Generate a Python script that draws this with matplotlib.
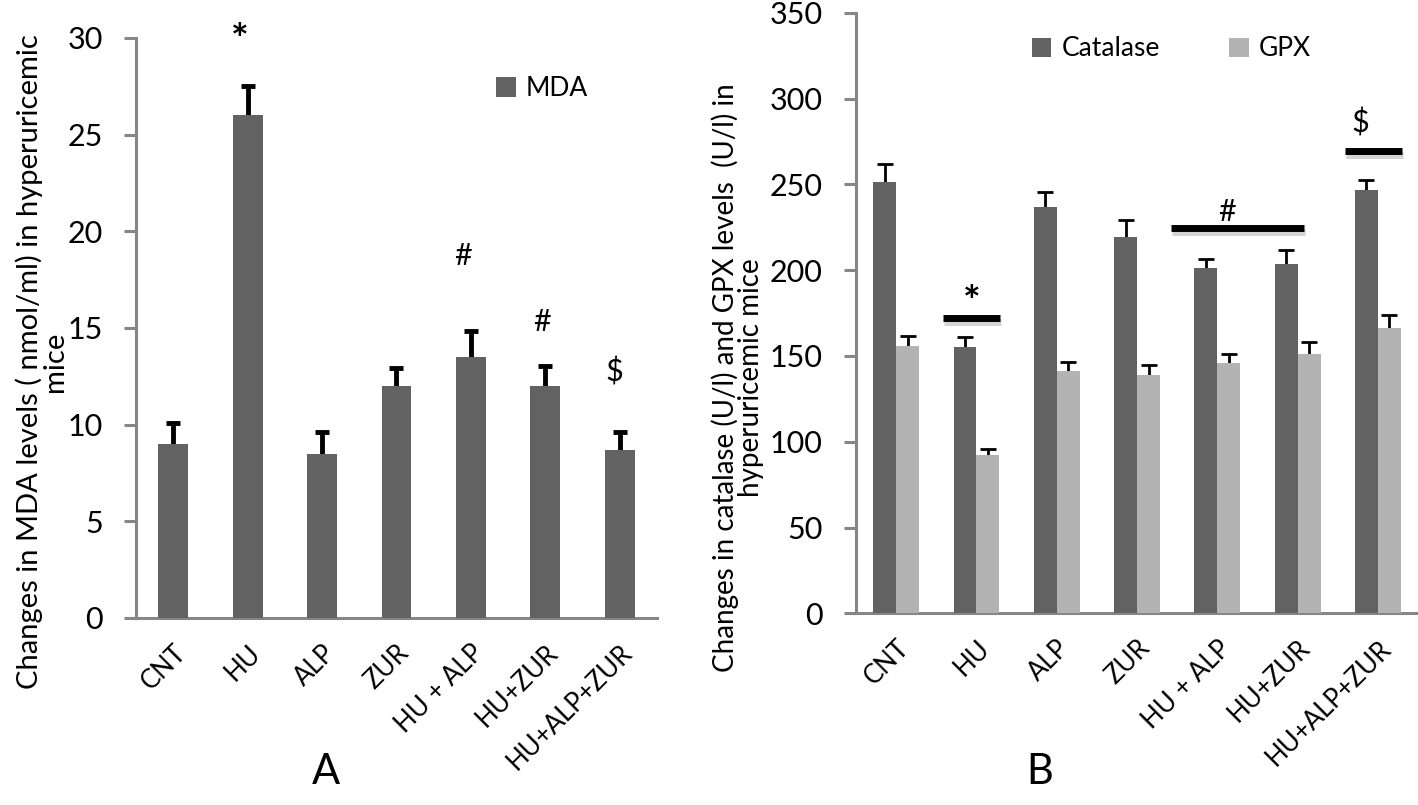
import matplotlib
matplotlib.use("Agg")
import matplotlib.pyplot as plt
import matplotlib.patheffects as pe
import numpy as np

plt.rcParams['font.family'] = ['Lato', 'DejaVu Sans']

groups = ['CNT', 'HU', 'ALP', 'ZUR', 'HU + ALP', 'HU+ZUR', 'HU+ALP+ZUR']

# panel A - MDA
mda = [9.0, 26.0, 8.5, 12.0, 13.5, 12.0, 8.7]
mda_err = [1.1, 1.5, 1.1, 0.95, 1.35, 1.05, 0.9]
mda_marks = ['*', '#', '#', '$']
mda_mark_x = [0.9, 3.9, 4.95, 5.93]
mda_mark_y = [29.8, 18.7, 15.3, 12.7]

# panel B - catalase and GPX
catalase = [251.5, 155.0, 237.0, 219.5, 201.0, 203.5, 246.5]
catalase_err = [10.5, 6.0, 8.5, 9.5, 5.5, 8.5, 6.0]
gpx = [155.5, 92.0, 141.0, 139.0, 146.0, 151.0, 166.5]
gpx_err = [6.0, 3.8, 5.5, 5.8, 5.3, 7.3, 7.3]
b_marks = ['*', '#', '$']
b_mark_x = [0.94, 4.12, 5.78]
b_mark_y = [169, 226, 277]
b_line_x0 = [0.58, 3.42, 5.59]
b_line_x1 = [1.29, 5.08, 6.30]
b_line_y = [172, 224.5, 269.5]

dark = '#626262'
light = '#b3b3b3'
axcol = '#868686'

fig = plt.figure(figsize=(14.18, 8.05), dpi=100)
x = np.arange(len(groups))

def style(ax):
    for s in ['top', 'right']:
        ax.spines[s].set_visible(False)
    for s in ['left', 'bottom']:
        ax.spines[s].set_color(axcol)
        ax.spines[s].set_linewidth(2.2)
    ax.tick_params(axis='y', length=9, width=2.2, color=axcol, labelsize=22, pad=15)
    ax.tick_params(axis='x', length=0, labelsize=18.5, pad=16)
    ax.set_xlim(-0.5, len(groups) - 0.5)
    ax.set_xticks(x)
    ax.set_xticklabels(groups, rotation=45, ha='right', rotation_mode='anchor')

# ---- A ----
ax1 = fig.add_axes([0.0959, 0.2323, 0.3674, 0.7205])
ax1.bar(x, mda, width=0.4, color=dark, label='MDA', zorder=3)
ax1.errorbar(x, mda, yerr=mda_err, fmt='none',
             ecolor='black', elinewidth=3.5, capsize=5, capthick=3.5, zorder=2)
ax1.set_ylim(0, 30)
ax1.set_yticks(range(0, 31, 5))
style(ax1)
ax1.set_ylabel('Changes in MDA levels ( nmol/ml) in hyperuricemic\nmice',
               fontsize=21, linespacing=0.95)
ax1.yaxis.set_label_coords(-0.13, 0.442)
for m, mx, my in zip(mda_marks, mda_mark_x, mda_mark_y):
    ax1.text(mx, my, m, ha='center', va='center', clip_on=False,
             fontsize=30 if m == '*' else 22, fontweight='bold' if m == '*' else 'normal')
ax1.legend(loc='upper left', bbox_to_anchor=(0.645, 0.975), frameon=False,
           fontsize=19, handlelength=0.75, handleheight=0.75, handletextpad=0.4)
fig.text(0.230, 0.018, 'A', fontsize=30, ha='center', va='bottom')

# ---- B ----
ax2 = fig.add_axes([0.6037, 0.2381, 0.3963, 0.7461])
w = 0.286
ax2.bar(x - w / 2, catalase, width=w, color=dark, label='Catalase', zorder=3)
ax2.bar(x + w / 2, gpx, width=w, color=light, label='GPX', zorder=3)
ax2.errorbar(x - w / 2, catalase, yerr=catalase_err, fmt='none',
             ecolor='black', elinewidth=2, capsize=6, capthick=2, zorder=2)
ax2.errorbar(x + w / 2, gpx, yerr=gpx_err, fmt='none',
             ecolor='black', elinewidth=2, capsize=6, capthick=2, zorder=2)
ax2.set_ylim(0, 350)
ax2.set_yticks(range(0, 351, 50))
style(ax2)
ax2.set_ylabel('Changes in catalase (U/l) and GPX levels  (U/l) in\nhyperuricemic mice',
               fontsize=20, linespacing=0.95)
ax2.yaxis.set_label_coords(-0.164, 0.392)
shadow = [pe.SimpleLineShadow(offset=(1, -3), shadow_color='#aaaaaa', alpha=0.5), pe.Normal()]
for m, mx, my, x0, x1, ly in zip(b_marks, b_mark_x, b_mark_y, b_line_x0, b_line_x1, b_line_y):
    ax2.plot([x0, x1], [ly, ly], color='black', lw=5, solid_capstyle='butt',
             path_effects=shadow, zorder=4)
    ax2.text(mx, my, m, ha='center', va='bottom',
             fontsize=30 if m == '*' else 22, fontweight='bold' if m == '*' else 'normal')
ax2.legend(loc='upper left', bbox_to_anchor=(0.27, 1.0), frameon=False, ncol=2,
           fontsize=19, handlelength=0.75, handleheight=0.75, handletextpad=0.4,
           columnspacing=2.6)
fig.text(0.733, 0.018, 'B', fontsize=30, ha='center', va='bottom')

fig.savefig('out.png', dpi=100)
